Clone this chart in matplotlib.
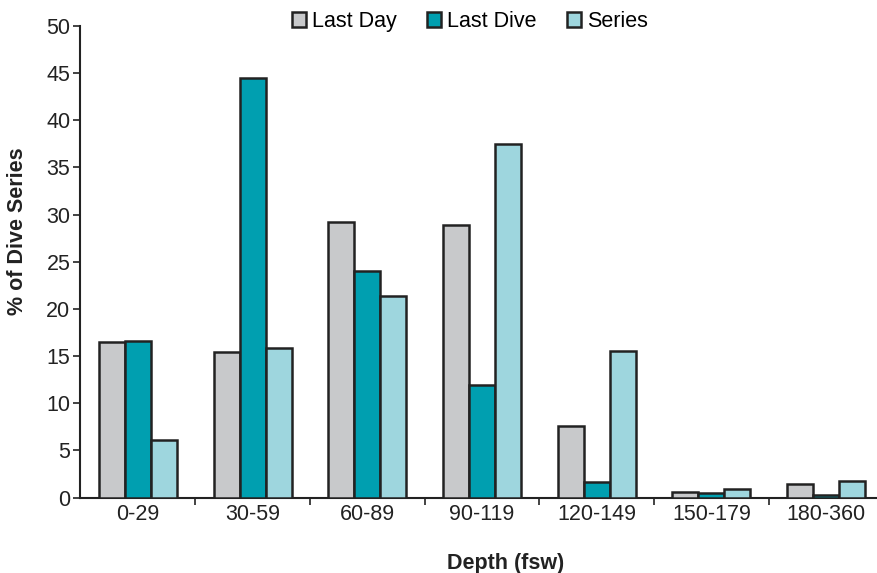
import matplotlib
matplotlib.use("Agg")
import matplotlib.pyplot as plt
from matplotlib.patches import Patch
import numpy as np

plt.rcParams['font.family'] = ['Liberation Sans', 'DejaVu Sans']

categories = ["0-29", "30-59", "60-89", "90-119", "120-149", "150-179", "180-360"]
last_day = [16.5, 15.4, 29.2, 28.9, 7.6, 0.55, 1.4]
last_dive = [16.6, 44.5, 24.0, 11.9, 1.6, 0.45, 0.25]
series = [6.1, 15.9, 21.4, 37.5, 15.5, 0.95, 1.75]
series_names = ["Last Day", "Last Dive", "Series"]
colors = ["#C8C9CB", "#009FB0", "#9ED6DE"]
edge = "#222222"

fig = plt.figure(figsize=(8.78, 5.73), dpi=100)
ax = fig.add_axes([80/878, (573-497.5)/573, (878-80)/878, (497.5-26)/573])

spacing = 114.7
x = np.arange(len(categories))
w = 26/spacing
for i, (vals, c) in enumerate(zip([last_day, last_dive, series], colors)):
    ax.bar(x + (i-1)*w, vals, width=w, color=c, edgecolor=edge, linewidth=1.8, zorder=3)

ax.set_xlim(-0.505, -0.505 + (878-80)/spacing)
ax.set_ylim(0, 50)
ax.set_yticks(np.arange(0, 51, 5))
ax.tick_params(axis='y', direction='out', length=5, width=1.2, labelsize=15.5, pad=2, colors='#222222')
ax.set_xticks(np.arange(0.5, len(categories)-0.5, 1))
ax.set_xticklabels([])
ax.tick_params(axis='x', which='major', direction='out', length=5, width=1.2, colors='#222222')
ax.set_xticks(x, minor=True)
ax.set_xticklabels(categories, minor=True, fontsize=15.5, color='#222222')
ax.tick_params(axis='x', which='minor', length=0, pad=5)

for s in ['top', 'right']:
    ax.spines[s].set_visible(False)
for s in ['left', 'bottom']:
    ax.spines[s].set_linewidth(1.5)
    ax.spines[s].set_color('#222222')

fig.text(18/878, 1 - 231/573, "% of Dive Series", fontsize=15.5, fontweight='bold', color='#222222',
         ha='center', va='center', rotation=90)
fig.text(506/878, 1 - 563/573, "Depth (fsw)", fontsize=15.5, fontweight='bold', color='#222222',
         ha='center', va='center')

handles = [Patch(facecolor=c, edgecolor=edge, linewidth=1.8) for c in colors]
fig.legend(handles, series_names, loc='upper center', bbox_to_anchor=(470/878, 1.003), ncol=3,
           frameon=False, fontsize=15.5, handlelength=0.65, handleheight=0.65, handletextpad=0.3,
           columnspacing=1.4, borderaxespad=0.2)

fig.savefig("out.png", dpi=100)
